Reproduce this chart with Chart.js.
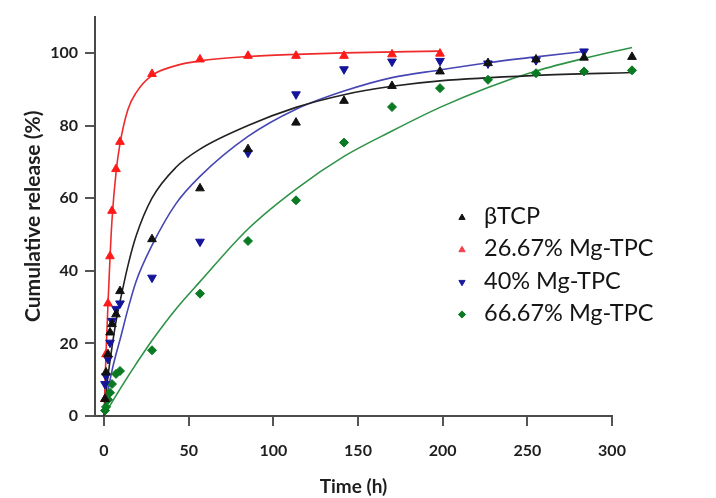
<!DOCTYPE html>
<html>
<head>
<meta charset="utf-8">
<script src="https://cdn.jsdelivr.net/npm/chart.js@4.4.1/dist/chart.umd.min.js"></script>
<style>
html,body{margin:0;padding:0;background:#fff;}
#wrap{width:716px;height:498px;position:relative;}
</style>
</head>
<body>
<div id="wrap"><canvas id="c" width="716" height="498"></canvas></div>
<script>
// ---------- data ----------
const seriesLabels = ['βTCP', '26.67% Mg-TPC', '40% Mg-TPC', '66.67% Mg-TPC'];

// measured points
const tcpTime    = [0.5, 1, 2, 3, 4, 6, 8, 24, 48, 72, 96, 120, 144, 168, 192, 216, 240, 264];
const tcpRelease = [4.7, 12, 17, 23, 25.3, 28, 34.4, 48.7, 62.7, 73.5, 80.8, 86.8, 90.9, 94.9, 97.2, 98.2, 98.7, 98.9];

const mg27Time    = [0.5, 1, 2, 3, 4, 6, 8, 24, 48, 72, 96, 120, 144, 168];
const mg27Release = [4.7, 17, 31, 44, 56.5, 68, 75.5, 94.2, 98.2, 99.2, 99.2, 99.2, 99.6, 99.8];

const mg40Time    = [0.5, 1, 2, 3, 4, 6, 8, 24, 48, 72, 96, 120, 144, 168, 192, 216, 240];
const mg40Release = [8.8, 11, 15.7, 20.2, 26.2, 29.5, 31, 38.1, 48, 72.5, 88.6, 95.5, 97.6, 97.8, 97.1, 98, 100.4];

const mg67Time    = [0.5, 1, 2, 3, 4, 6, 8, 24, 48, 72, 96, 120, 144, 168, 192, 216, 240, 264];
const mg67Release = [1.5, 2.5, 4.5, 6.4, 8.8, 11.6, 12.4, 18.1, 33.7, 48.2, 59.4, 75.3, 85.1, 90.3, 92.6, 94.4, 94.9, 95.2];

// fitted curves
const tcpFitTime  = [0, 1, 2, 4, 6, 8, 12, 16, 24, 36, 48, 72, 96, 120, 144, 168, 216, 264];
const tcpFitValue = [0, 6, 11, 19, 26, 31.5, 41.5, 49.5, 60, 68.5, 73.5, 80, 85, 88.5, 90.8, 92.3, 93.8, 94.6];

const mg27FitTime  = [0, 0.5, 1, 2, 3, 4, 6, 8, 12, 16, 24, 36, 48, 72, 96, 120, 168];
const mg27FitValue = [0, 8.5, 17, 31, 43.5, 54, 67, 75, 84.5, 89, 93.8, 96.5, 97.8, 99, 99.6, 100, 100.5];

const mg40FitTime  = [0, 1, 2, 4, 6, 8, 12, 16, 24, 36, 48, 72, 96, 120, 144, 168, 192, 216, 240];
const mg40FitValue = [0, 3.5, 7, 12.5, 17, 21, 29.5, 37, 47, 58.5, 66, 77, 84.5, 89.5, 93.2, 95.3, 97.3, 98.9, 100.4];

const mg67FitTime  = [0, 4, 8, 12, 16, 24, 36, 48, 72, 96, 120, 144, 168, 192, 216, 240, 264];
const mg67FitValue = [0, 3.8, 7.4, 10.9, 14.3, 20.8, 29.5, 37, 51.5, 62.5, 71.5, 78.5, 85, 90.5, 95, 98.5, 101.5];

const xTickLabels = [0, 50, 100, 150, 200, 250, 300];
const yTickLabels = [0, 20, 40, 60, 80, 100];

// ---------- styles ----------
const markerColors = ['#111111', '#ff1a1a', '#14149a', '#0a7a22'];
const lineColors   = ['#222222', '#ee2a2a', '#4646b4', '#2f9347'];
const legendMarkerColors = ['#111111', '#f0404c', '#1a1aa0', '#0a7a22'];
const pointStyles  = ['triangle', 'triangle', 'triangle', 'rectRot'];
const pointRots    = [0, 0, 180, 0];
const DATA_X_EDGE = 254; // hours at the right edge of the plotting box

function pts(t, v) { return t.map((x, i) => ({x: x, y: v[i]})); }

const pointSets = [pts(tcpTime, tcpRelease), pts(mg27Time, mg27Release), pts(mg40Time, mg40Release), pts(mg67Time, mg67Release)];
const fitSets = [pts(tcpFitTime, tcpFitValue), pts(mg27FitTime, mg27FitValue), pts(mg40FitTime, mg40FitValue), pts(mg67FitTime, mg67FitValue)];

const datasets = [];
fitSets.forEach((d, i) => {
  datasets.push({
    type: 'line', label: seriesLabels[i] + ' fit', data: d, xAxisID: 'x', yAxisID: 'y',
    borderColor: lineColors[i], borderWidth: 1.6, pointRadius: 0, pointHoverRadius: 0, fill: false,
    cubicInterpolationMode: 'monotone', order: 2, isFit: true, clip: false
  });
});
pointSets.forEach((d, i) => {
  const r = i === 3 ? 4.5 : 5;
  datasets.push({
    type: 'scatter', label: seriesLabels[i], data: d,
    xAxisID: 'x', yAxisID: 'y',
    showLine: false, pointStyle: pointStyles[i], rotation: pointRots[i],
    pointRadius: r,
    // points past the right edge of the box (264 h) still get drawn
    pointHoverRadius: c => (c.raw && c.raw.x > DATA_X_EDGE) ? 26 : r,
    backgroundColor: markerColors[i], borderColor: markerColors[i],
    borderWidth: 1, order: 1, clip: false
  });
});

const FONT = "'Lato', 'Open Sans', 'DejaVu Sans', sans-serif";
Chart.defaults.font.family = FONT;

const legendPlugin = {
  id: 'insideLegend',
  afterDatasetsDraw(chart) {
    const ctx = chart.ctx, a = chart.chartArea;
    const items = chart.data.datasets.filter(d => !d.isFit);
    const mx = a.left + 367, tx = a.left + 389, y0 = a.top + 200, step = 32.3;
    ctx.save();
    items.forEach((d, i) => {
      const y = y0 + i * step;
      ctx.fillStyle = legendMarkerColors[i];
      ctx.strokeStyle = legendMarkerColors[i];
      ctx.lineWidth = 1;
      if (Chart.helpers && Chart.helpers.drawPoint) {
        Chart.helpers.drawPoint(ctx, {pointStyle: d.pointStyle, rotation: d.rotation, radius: 3.6, borderWidth: 1}, mx, y + 1);
      }
      ctx.fillStyle = '#151515';
      ctx.font = "23.5px " + FONT;
      ctx.textBaseline = 'middle';
      ctx.textAlign = 'left';
      ctx.fillText(d.label, tx, y);
    });
    ctx.restore();
  }
};

new Chart(document.getElementById('c'), {
  data: {datasets: datasets},
  options: {
    responsive: false,
    animation: false,
    devicePixelRatio: 1,
    events: [],
    layout: {autoPadding: false, padding: {left: 0, right: 104, top: 15, bottom: 0}},
    plugins: {legend: {display: false}, tooltip: {enabled: false}},
    scales: {
      x: {type: 'linear', display: false, min: -4.5, max: DATA_X_EDGE},
      x2: {
        type: 'linear', position: 'bottom', min: -5.31, max: 300,
        afterBuildTicks: s => { s.ticks = xTickLabels.map(v => ({value: v})); },
        afterFit: s => { s.height = 82; },
        grid: {drawOnChartArea: false, drawTicks: true, tickLength: 10, color: '#555', lineWidth: 2},
        border: {display: true, color: '#4a4a4a', width: 2},
        ticks: {padding: 15, color: '#1e1e1e', maxRotation: 0, autoSkip: false, font: {size: 16, weight: 'bold'}},
        title: {display: true, text: 'Time (h)', color: '#1e1e1e', font: {size: 19, weight: 'bold'}, padding: {top: 0, bottom: 0}}
      },
      y: {
        type: 'linear', position: 'left', min: 0, max: 110,
        afterBuildTicks: s => { s.ticks = yTickLabels.map(v => ({value: v})); },
        afterFit: s => { s.width = 95; },
        grid: {drawOnChartArea: false, drawTicks: true, tickLength: 10, color: '#555', lineWidth: 2},
        border: {display: true, color: '#4a4a4a', width: 2},
        ticks: {padding: 7, color: '#1e1e1e', font: {size: 16, weight: 'bold'}},
        title: {display: true, text: 'Cumulative release (%)', color: '#1e1e1e', font: {size: 21, weight: 'bold'}, padding: {top: 21, bottom: 21}}
      }
    }
  },
  plugins: [legendPlugin]
});
</script>
</body>
</html>
